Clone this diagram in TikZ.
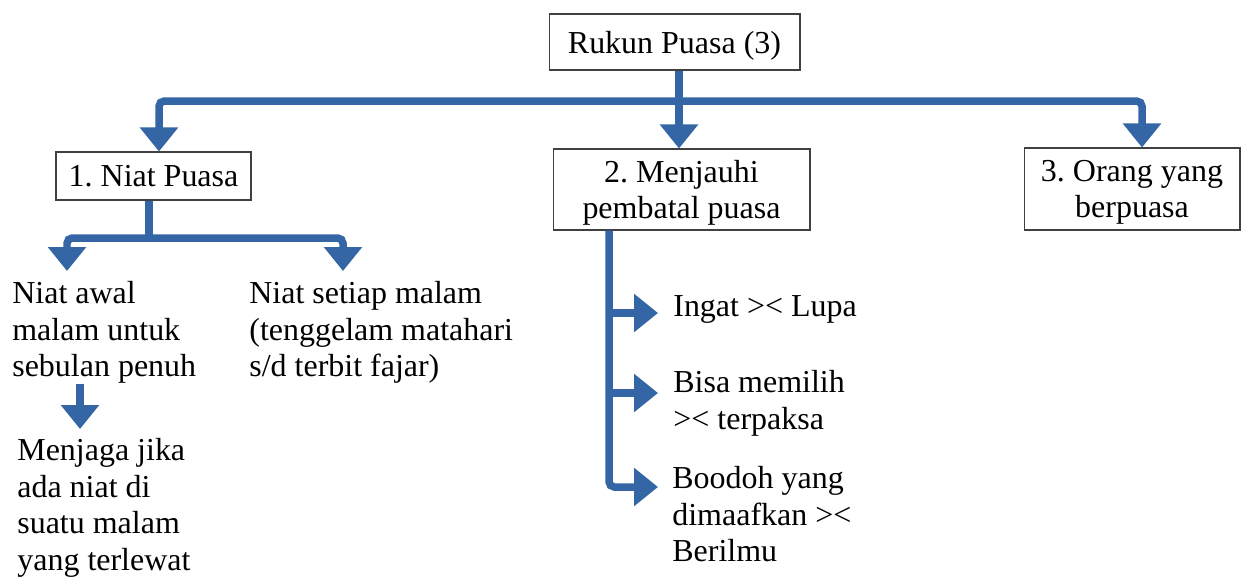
\documentclass[tikz,border=0pt]{standalone}
\usepackage{fontspec}
\setmainfont{Liberation Serif}
\usetikzlibrary{arrows.meta}
\definecolor{rukunblue}{RGB}{52,101,164}
\frenchspacing
\begin{document}
\begin{tikzpicture}[x=0.02cm, y=-0.02cm, font=\fontsize{18.2}{20.8}\selectfont,
		box/.style={draw=black!75, line width=0.6pt, align=center, text depth=0pt, inner sep=0pt},
		txt/.style={anchor=north west, align=left, inner sep=0pt},
		line/.style={draw=rukunblue, line width=0.15cm, rounded corners=3pt},
		flow/.style={line, -{Triangle[width=0.74cm, length=0.48cm]}},
		fork/.style={line, {Triangle[width=0.74cm, length=0.48cm]}-{Triangle[width=0.74cm, length=0.48cm]}}]
	\useasboundingbox (0,0) rectangle (1241,576);
	\clip (0,0) rectangle (1241,576);
	\node[box, minimum width=5.02cm, minimum height=1.12cm] (r) at (674.5,42) {Rukun Puasa (3)};
	\node[box, minimum width=3.9cm, minimum height=0.96cm] (n) at (153.5,176) {1. Niat Puasa};
	\node[box, minimum width=5.14cm, minimum height=1.62cm] (m) at (681.5,189.5) {2. Menjauhi\\pembatal puasa};
	\node[box, minimum width=4.32cm, minimum height=1.64cm] (o) at (1132,189) {3. Orang yang\\berpuasa};
	\node[txt] (a) at (12,281) {Niat awal\\malam untuk\\sebulan penuh};
	\node[txt] (s) at (249,281) {Niat setiap malam\\(tenggelam matahari\\s/d terbit fajar)};
	\node[txt] (j) at (17,438) {Menjaga jika\\ada niat di\\suatu malam\\yang terlewat};
	\node[txt] (i1) at (673,295) {Ingat >< Lupa};
	\node[txt] (i2) at (673,370) {Bisa memilih\\>< terpaksa};
	\node[txt] (i3) at (672,466) {Boodoh yang\\dimaafkan ><\\Berilmu};
	\coordinate (h) at (679,101);
	\coordinate (hl) at (159,0);
	\coordinate (hr) at (1142,0);
	\coordinate (f) at (149,238);
	\coordinate (ta) at (67,271);
	\coordinate (ts) at (343,271);
	\coordinate (c) at (80,0);
	\coordinate (tj) at (80,429);
	\coordinate (sp) at (609,0);
	\coordinate (t1) at (658,313);
	\coordinate (t2) at (658,393);
	\coordinate (t3) at (658,487);
	\draw[flow] (r.south -| h) -- (h |- m.north);
	\draw[fork] (hl |- n.north) |- (h) -| (hr |- o.north);
	\draw[line] (n.south -| f) -- (f);
	\draw[fork] (ta) |- (f) -| (ts);
	\draw[flow] (a.south -| c) -- (tj);
	\draw[flow] (m.south -| sp) |- (t3);
	\draw[flow] (sp |- t1) -- (t1);
	\draw[flow] (sp |- t2) -- (t2);
\end{tikzpicture}
\end{document}
